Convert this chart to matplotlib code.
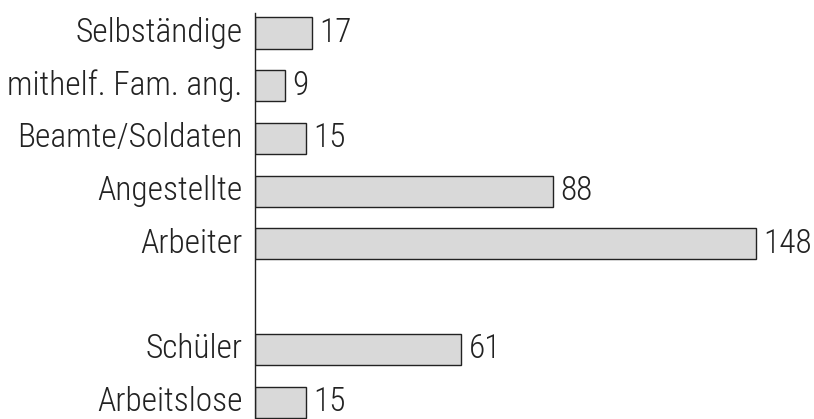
import matplotlib
matplotlib.use('Agg')
import matplotlib.pyplot as plt

categories = ['Selbständige', 'mithelf. Fam. ang.', 'Beamte/Soldaten',
              'Angestellte', 'Arbeiter', 'Schüler', 'Arbeitslose']
values = [17, 9, 15, 88, 148, 61, 15]
# row slots, with an empty slot between Arbeiter and Schüler
slots = [0, 1, 2, 3, 4, 6, 7]

plt.rcParams['font.family'] = ['Roboto Condensed', 'DejaVu Sans']

fig = plt.figure(figsize=(8.14, 4.19), dpi=100)
ax = fig.add_axes([254.7 / 814, 0, 542 / 814, 406 / 419])

ax.barh(slots, values, height=0.59, color='#d9d9d9', edgecolor='#222222', linewidth=1.0)
ax.set_xlim(0, 160)
ax.set_ylim(7.32, -0.38)

for s, v, c in zip(slots, values, categories):
    ax.text(v + 2.2, s, str(v), va='center', ha='left', fontsize=24,
            fontweight='light', color='#222222')
    ax.text(-3.5, s, c, va='center', ha='right', fontsize=24,
            fontweight='light', color='#222222')

for side in ['top', 'right', 'bottom']:
    ax.spines[side].set_visible(False)
ax.spines['left'].set_color('#222222')
ax.spines['left'].set_linewidth(1.0)
ax.set_xticks([])
ax.set_yticks([])

fig.savefig('out.png', dpi=100)
